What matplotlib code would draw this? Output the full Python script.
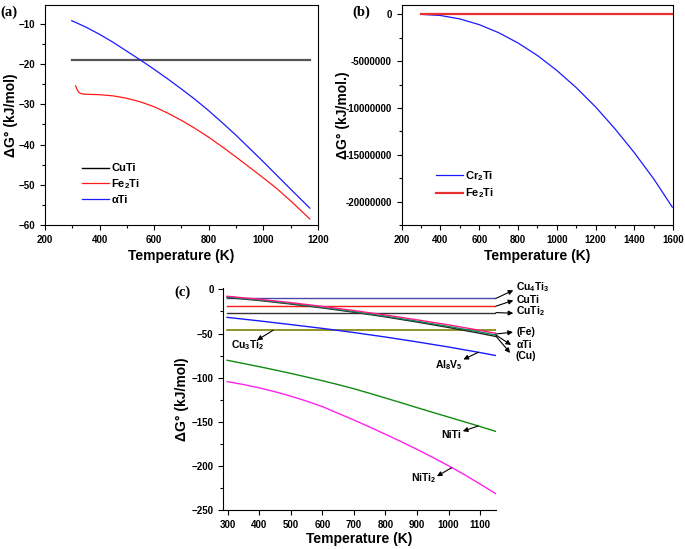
import numpy as np
import matplotlib
matplotlib.use('Agg')
import matplotlib.pyplot as plt
from matplotlib.ticker import MultipleLocator, FuncFormatter

plt.rcParams['font.family'] = ['Liberation Sans', 'DejaVu Sans']
plt.rcParams['font.weight'] = 'bold'
plt.rcParams['mathtext.fontset'] = 'custom'
plt.rcParams['mathtext.rm'] = 'Liberation Sans:bold'
plt.rcParams['mathtext.bf'] = 'Liberation Sans:bold'
plt.rcParams['mathtext.it'] = 'Liberation Sans:bold'

# ---- panel (a) data ----
T_a_cuti = [298, 1170]
G_a_cuti = [-19.0, -19.0]
T_a_fe2ti = [312, 318, 325, 335, 350, 400, 450, 500, 550, 600, 650, 700, 750, 800,
             850, 900, 950, 1000, 1050, 1100, 1170]
G_a_fe2ti = [-25.4, -26.4, -27.1, -27.4, -27.5, -27.6, -27.9, -28.5, -29.4, -30.6, -32.2,
             -34.0, -36.0, -38.2, -40.6, -43.1, -45.7, -48.3, -51.0, -54.0, -58.5]
T_a_ti = [298, 350, 400, 450, 500, 550, 600, 650, 700, 750, 800, 850, 900, 950,
          1000, 1050, 1100, 1170]
G_a_ti = [-9.2, -10.8, -12.6, -14.6, -16.8, -19.0, -21.3, -23.7, -26.2, -28.8, -31.6,
          -34.6, -37.7, -41.0, -44.3, -47.7, -51.1, -55.8]

# ---- panel (b) data ----
T_b_cr2ti = [300, 400, 500, 600, 700, 800, 900, 1000, 1100, 1200, 1300, 1400, 1500, 1595]
G_b_cr2ti = [0, -0.12e6, -0.49e6, -1.1e6, -1.96e6, -3.06e6, -4.4e6, -6.0e6, -7.83e6,
             -9.9e6, -12.24e6, -14.8e6, -17.6e6, -20.6e6]
T_b_fe2ti = [300, 1600]
G_b_fe2ti = [-19.0, -19.0]

# ---- panel (c) data ----
T_c = [298, 400, 500, 600, 700, 800, 900, 1000, 1100, 1150]
G_cu4ti3 = [-10.2] * 10
G_cuti = [-19.0] * 10
G_cuti2 = [-26.3] * 10
G_cu3ti2 = [-46.3] * 10
G_fe = [-7.8, -11.2, -15.0, -19.3, -24.0, -29.0, -34.5, -40.2, -46.5, -49.8]
G_ti = [-8.6, -12.0, -16.0, -20.4, -25.2, -30.4, -36.0, -42.0, -48.3, -51.7]
G_cu = [-9.2, -12.6, -16.6, -21.0, -25.9, -31.2, -37.0, -43.2, -49.8, -53.4]
G_al8v5 = [-31.7, -35.7, -39.9, -44.2, -48.9, -54.0, -59.5, -65.3, -71.6, -75.0]

T_c_ni = [298, 350, 400, 450, 500, 550, 600, 650, 700, 750, 800, 850, 900, 950,
          1000, 1050, 1100, 1150]
G_niti = [-80.3, -84.0, -87.6, -91.3, -95.2, -99.3, -103.5, -107.9, -112.6, -117.8,
          -123.1, -128.5, -134.0, -139.4, -144.7, -150.0, -155.4, -161.0]
G_niti2 = [-104.5, -107.8, -111.6, -116.0, -121.0, -126.6, -132.8, -140.5, -148.0,
           -156.0, -164.2, -172.6, -181.3, -190.4, -199.9, -209.9, -220.6, -231.6]

fig = plt.figure(figsize=(6.85, 5.49), dpi=100)

tick_fs = 7
lab_fs = 10


def style_ticks(ax):
    ax.tick_params(which='both', direction='out', labelsize=tick_fs, width=0.8)
    ax.tick_params(which='major', length=3.5)
    ax.tick_params(which='minor', length=2)
    for t in ax.get_xticklabels() + ax.get_yticklabels():
        t.set_fontweight('bold')


# ---------------- (a) ----------------
ax1 = fig.add_axes([0.0657, 0.5902, 0.3985, 0.4007])
ax1.plot(T_a_cuti, G_a_cuti, color='#555555', lw=1.6, label='CuTi')
ax1.plot(T_a_fe2ti, G_a_fe2ti, color='#ff1a1a', lw=0.9, label=r'Fe$_{2}$Ti')
ax1.plot(T_a_ti, G_a_ti, color='#1a1aff', lw=0.9, label='αTi')
ax1.set_xlim(200, 1200)
ax1.set_ylim(-60, -5.3)
ax1.xaxis.set_major_locator(MultipleLocator(200))
ax1.xaxis.set_minor_locator(MultipleLocator(100))
ax1.yaxis.set_major_locator(MultipleLocator(10))
ax1.yaxis.set_minor_locator(MultipleLocator(5))
style_ticks(ax1)
ax1.set_xlabel('Temperature (K)', fontsize=lab_fs, fontweight='bold')
ax1.set_ylabel('ΔG° (kJ/mol)', fontsize=lab_fs, fontweight='bold')
ax1.yaxis.set_label_coords(-0.10, 0.5)
ax1.xaxis.set_label_coords(0.5, -0.11)
leg1 = ax1.legend(loc='upper left', bbox_to_anchor=(0.10, 0.325), frameon=False,
                  fontsize=8, handlelength=2.4, handletextpad=0.2, labelspacing=0.35)
leg1.get_lines()[0].set_color('black')
leg1.get_lines()[0].set_linewidth(1.0)
fig.text(0.0, 0.972, '(a)', fontsize=10.5, fontweight='bold', family='Liberation Serif')

# ---------------- (b) ----------------
ax2 = fig.add_axes([0.5864, 0.5902, 0.3965, 0.4007])
ax2.plot(T_b_cr2ti, G_b_cr2ti, color='#1a1aff', lw=0.9, label=r'Cr$_{2}$Ti')
ax2.plot(T_b_fe2ti, G_b_fe2ti, color='#e83030', lw=1.6, label=r'Fe$_{2}$Ti')
ax2.set_xlim(200, 1600)
ax2.set_ylim(-22.5e6, 1.0e6)
ax2.xaxis.set_major_locator(MultipleLocator(200))
ax2.xaxis.set_minor_locator(MultipleLocator(100))
ax2.yaxis.set_major_locator(MultipleLocator(5e6))
ax2.yaxis.set_minor_locator(MultipleLocator(2.5e6))
ax2.yaxis.set_major_formatter(FuncFormatter(lambda v, p: '%d' % round(v)))
style_ticks(ax2)
ax2.set_xlabel('Temperature (K)', fontsize=lab_fs, fontweight='bold')
ax2.set_ylabel('ΔG° (kJ/mol.)', fontsize=lab_fs, fontweight='bold')
ax2.yaxis.set_label_coords(-0.19, 0.5)
ax2.xaxis.set_label_coords(0.5, -0.11)
ax2.legend(loc='upper left', bbox_to_anchor=(0.09, 0.30), frameon=False,
           fontsize=8, handlelength=2.4, handletextpad=0.2, labelspacing=0.35)
fig.text(0.514, 0.972, '(b)', fontsize=10.5, fontweight='bold', family='Liberation Serif')

# ---------------- (c) ----------------
ax3 = fig.add_axes([0.326, 0.071, 0.398, 0.4035])
ax3.plot(T_c, G_cu4ti3, color='#4848a8', lw=1.0)
ax3.plot(T_c, G_cuti, color='#ff1a1a', lw=1.0)
ax3.plot(T_c, G_cuti2, color='#333333', lw=1.0)
ax3.plot(T_c, G_cu3ti2, color='#808000', lw=1.2)
ax3.plot(T_c, G_al8v5, color='#1a1aff', lw=1.0)
ax3.plot(T_c_ni, G_niti, color='#118a11', lw=1.0)
ax3.plot(T_c_ni, G_niti2, color='#ff22ee', lw=1.0)
ax3.plot(T_c, G_cu, color='#222222', lw=1.0)
ax3.plot(T_c, G_ti, color='#118a55', lw=1.0)
ax3.plot(T_c, G_fe, color='#ff1a8c', lw=1.0)
ax3.set_xlim(286, 1150)
ax3.set_ylim(-250, 1)
ax3.xaxis.set_major_locator(MultipleLocator(100))
ax3.yaxis.set_major_locator(MultipleLocator(50))
ax3.yaxis.set_minor_locator(MultipleLocator(25))
ax3.spines['top'].set_visible(False)
ax3.spines['right'].set_visible(False)
style_ticks(ax3)
ax3.set_xlabel('Temperature (K)', fontsize=lab_fs, fontweight='bold')
ax3.set_ylabel('ΔG° (kJ/mol)', fontsize=lab_fs, fontweight='bold')
ax3.yaxis.set_label_coords(-0.125, 0.5)
ax3.xaxis.set_label_coords(0.5, -0.1)
fig.text(0.255, 0.462, '(c)', fontsize=10.5, fontweight='bold', family='Liberation Serif')

arrow_kw = dict(arrowstyle='-|>', color='black', lw=0.8, mutation_scale=7,
                shrinkA=0, shrinkB=0)
lab_kw = dict(fontsize=7.5, fontweight='bold', va='center')

# (label, tail on line, arrow head, text position, ha)
notes = [
    (r'Cu$_{4}$Ti$_{3}$', (1150, -10.2), (1205, -1.0), (1214, 3.0), 'left'),
    ('CuTi', (1150, -19.0), (1205, -12.5), (1214, -12.0), 'left'),
    (r'CuTi$_{2}$', (1150, -26.3), (1205, -27.0), (1214, -24.5), 'left'),
    ('(Fe)', (1150, -50.5), (1204, -48.5), (1214, -48.5), 'left'),
    ('αTi', (1150, -51.7), (1198, -63.0), (1214, -63.0), 'left'),
    ('(Cu)', (1150, -53.0), (1195, -72.0), (1211, -75.0), 'left'),
    (r'Al$_{8}$V$_{5}$', (1094, -71.3), (1047, -79.4), (1001, -86.0), 'center'),
    (r'Cu$_{3}$Ti$_{2}$', (444, -46.3), (393, -57.5), (362, -63.5), 'center'),
    ('NiTi', (1094, -154.8), (1045, -160.7), (1008, -165.2), 'center'),
    (r'NiTi$_{2}$', (1010, -202.0), (963, -211.7), (922, -213.5), 'center'),
]
for txt, tail, head, pos, ha in notes:
    ax3.annotate('', xy=head, xytext=tail, arrowprops=arrow_kw, annotation_clip=False)
    ax3.text(pos[0], pos[1], txt, ha=ha, clip_on=False, **lab_kw)

fig.savefig('out.png', dpi=100)
